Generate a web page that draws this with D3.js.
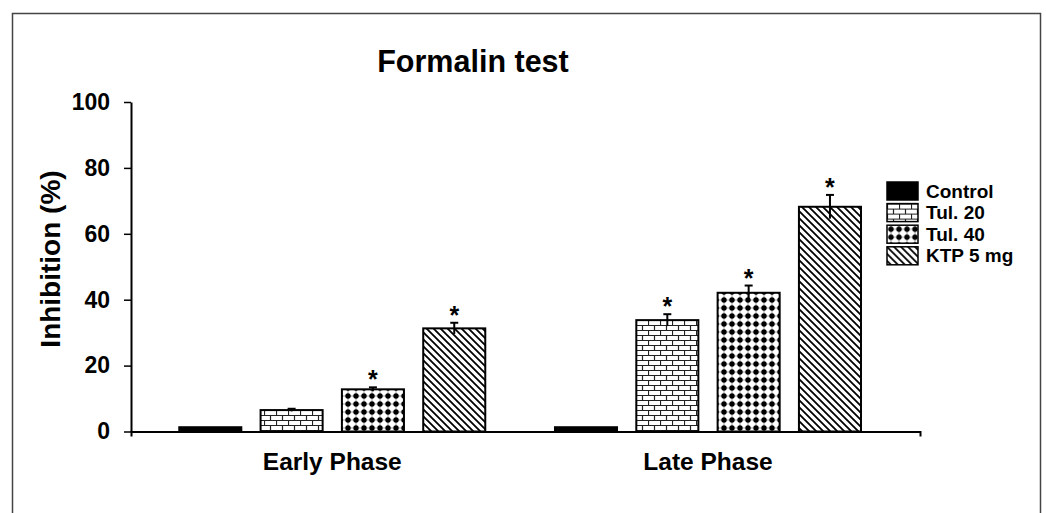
<!DOCTYPE html>
<html>
<head>
<meta charset="utf-8">
<script src="https://cdn.jsdelivr.net/npm/d3@7"></script>
<style>
  body { margin: 0; background: #fff; }
  text { font-family: "Liberation Sans", Arial, sans-serif; font-weight: bold; fill: #000; }
</style>
</head>
<body>
<script>
"use strict"

// data
var phases = ["Early Phase", "Late Phase"];
var series = ["Control", "Tul. 20", "Tul. 40", "KTP 5 mg"];
var earlyValues = [1.3, 6.5, 12.8, 31.3];
var earlyErrors = [0.2, 0.4, 0.6, 1.7];
var earlySig = [false, false, true, true];
var lateValues = [1.3, 33.8, 42.1, 68.2];
var lateErrors = [0.2, 1.8, 2.2, 3.6];
var lateSig = [false, true, true, true];
var yTicks = [0, 20, 40, 60, 80, 100];

var width = 1046, height = 513;

var svg = d3.select("body").append("svg")
    .attr("width", width)
    .attr("height", height);

// patterns
var defs = svg.append("defs");

var brick = defs.append("pattern")
    .attr("id", "brick")
    .attr("patternUnits", "userSpaceOnUse")
    .attr("width", 12).attr("height", 10);
brick.append("rect").attr("width", 12).attr("height", 10).attr("fill", "#fff");
brick.append("path")
    .attr("d", "M0,0.5H12M0,5.5H12M0.5,0V5.5M6.5,5.5V10")
    .attr("stroke", "#222").attr("stroke-width", 1.2).attr("fill", "none");

var dots = defs.append("pattern")
    .attr("id", "dots")
    .attr("patternUnits", "userSpaceOnUse")
    .attr("width", 8).attr("height", 8);
dots.append("rect").attr("width", 8).attr("height", 8).attr("fill", "#fff");
dots.append("path")
    .attr("d", "M0,4H8M4,0V8")
    .attr("stroke", "#555").attr("stroke-width", 0.6);
dots.append("circle").attr("cx", 4).attr("cy", 4).attr("r", 2.7).attr("fill", "#000");

var diag = defs.append("pattern")
    .attr("id", "diag")
    .attr("patternUnits", "userSpaceOnUse")
    .attr("width", 7).attr("height", 7);
diag.append("rect").attr("width", 7).attr("height", 7).attr("fill", "#fff");
diag.append("path")
    .attr("d", "M-1,-1L8,8M-1,6L1,8M6,-1L8,1")
    .attr("stroke", "#000").attr("stroke-width", 1.8);

var fills = d3.scaleOrdinal()
    .domain(series)
    .range(["#000", "url(#brick)", "url(#dots)", "url(#diag)"]);

// outer frame
svg.append("rect")
    .attr("x", 12.5).attr("y", 13.5)
    .attr("width", 1028).attr("height", 520)
    .attr("fill", "none")
    .attr("stroke", "#444")
    .attr("stroke-width", 1.5);

// scales
var x0 = d3.scalePoint()
    .domain(phases)
    .range([131, 920])
    .padding(0.55)
    .align(0.487);

var x1 = d3.scaleBand()
    .domain(series)
    .range([-153, 153])
    .paddingInner(0.237);

var y = d3.scaleLinear()
    .domain([0, 100])
    .range([431.5, 102]);

var rows = [];
phases.forEach(function(p, pi) {
    var vals = pi == 0 ? earlyValues : lateValues;
    var errs = pi == 0 ? earlyErrors : lateErrors;
    var sig = pi == 0 ? earlySig : lateSig;
    series.forEach(function(s, si) {
        rows.push({phase: p, series: s, value: vals[si], err: errs[si], sig: sig[si]});
    });
});

// bars
svg.append("g").selectAll("rect")
    .data(rows)
  .enter().append("rect")
    .attr("x", function(d) { return x0(d.phase) + x1(d.series); })
    .attr("y", function(d) { return y(d.value); })
    .attr("width", x1.bandwidth())
    .attr("height", function(d) { return y(0) - y(d.value); })
    .attr("fill", function(d) { return fills(d.series); })
    .attr("stroke", "#000")
    .attr("stroke-width", 2);

// error bars
var eb = svg.append("g").selectAll("g")
    .data(rows.filter(function(d) { return d.series != "Control"; }))
  .enter().append("g")
    .attr("transform", function(d) {
        return "translate(" + (x0(d.phase) + x1(d.series) + x1.bandwidth() / 2) + ",0)";
    });
eb.append("line")
    .attr("y1", function(d) { return y(d.value - d.err); })
    .attr("y2", function(d) { return y(d.value + d.err); })
    .attr("stroke", "#000").attr("stroke-width", 2);
eb.append("line")
    .attr("x1", -4).attr("x2", 4)
    .attr("y1", function(d) { return y(d.value + d.err); })
    .attr("y2", function(d) { return y(d.value + d.err); })
    .attr("stroke", "#000").attr("stroke-width", 2);
eb.filter(function(d) { return d.sig; })
  .append("text")
    .attr("y", function(d) { return y(d.value + d.err) + 1; })
    .attr("text-anchor", "middle")
    .attr("font-size", "25px")
    .text("*");

// axes
var xAxis = svg.append("g")
    .attr("transform", "translate(0," + y(0) + ")")
    .call(d3.axisBottom(x0).tickValues([]).tickSizeOuter(5));
xAxis.select(".domain").attr("stroke", "#000").attr("stroke-width", 2);

svg.selectAll(".phase-label")
    .data(phases)
  .enter().append("text")
    .attr("class", "phase-label")
    .attr("x", function(d) { return x0(d); })
    .attr("y", 470)
    .attr("text-anchor", "middle")
    .attr("font-size", "24.5px")
    .text(function(d) { return d; });

var yAxis = svg.append("g")
    .attr("transform", "translate(131,0)")
    .call(d3.axisLeft(y).tickValues(yTicks).tickSize(7).tickSizeOuter(0).tickPadding(14));
yAxis.select(".domain").attr("stroke", "#000").attr("stroke-width", 2);
yAxis.selectAll(".tick line").attr("stroke", "#000").attr("stroke-width", 1.5);
yAxis.selectAll(".tick text")
    .attr("font-size", "23px")
    .attr("font-family", "'Liberation Sans', Arial, sans-serif")
    .attr("font-weight", "bold")
    .attr("fill", "#000");

svg.append("text")
    .attr("transform", "translate(60,259) rotate(-90)")
    .attr("text-anchor", "middle")
    .attr("font-size", "28px")
    .text("Inhibition (%)");

// title
svg.append("text")
    .attr("x", 473)
    .attr("y", 72)
    .attr("text-anchor", "middle")
    .attr("font-size", "30.5px")
    .text("Formalin test");

// legend
var legend = svg.append("g").selectAll("g")
    .data(series)
  .enter().append("g")
    .attr("transform", function(d, i) { return "translate(887," + (182 + i * 21.6) + ")"; });
legend.append("rect")
    .attr("width", 31)
    .attr("height", 18)
    .attr("fill", function(d) { return fills(d); })
    .attr("stroke", "#000")
    .attr("stroke-width", 1.5);
legend.append("text")
    .attr("x", 39)
    .attr("y", 15.5)
    .attr("font-size", "19px")
    .text(function(d) { return d; });
</script>
</body>
</html>
